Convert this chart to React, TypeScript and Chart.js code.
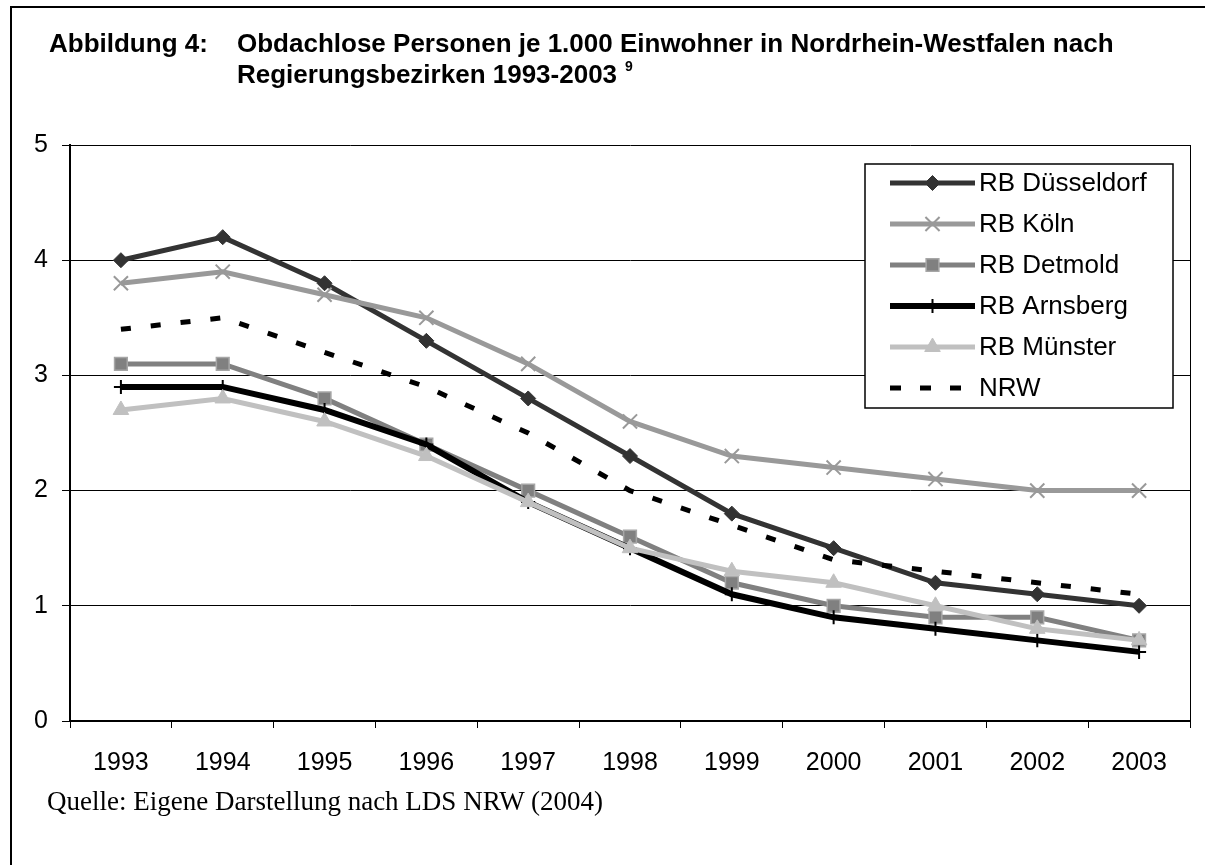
import React, { useEffect, useRef } from "react";
import { Chart, registerables } from "chart.js";
import { drawPoint } from "chart.js/helpers";

Chart.register(...registerables);

const years = ["1993", "1994", "1995", "1996", "1997", "1998", "1999", "2000", "2001", "2002", "2003"];
const duesseldorf = [4.0, 4.2, 3.8, 3.3, 2.8, 2.3, 1.8, 1.5, 1.2, 1.1, 1.0];
const koeln = [3.8, 3.9, 3.7, 3.5, 3.1, 2.6, 2.3, 2.2, 2.1, 2.0, 2.0];
const detmold = [3.1, 3.1, 2.8, 2.4, 2.0, 1.6, 1.2, 1.0, 0.9, 0.9, 0.7];
const arnsberg = [2.9, 2.9, 2.7, 2.4, 1.9, 1.5, 1.1, 0.9, 0.8, 0.7, 0.6];
const muenster = [2.7, 2.8, 2.6, 2.3, 1.9, 1.5, 1.3, 1.2, 1.0, 0.8, 0.7];
const nrw = [3.4, 3.5, 3.2, 2.9, 2.5, 2.0, 1.7, 1.4, 1.3, 1.2, 1.1];
const yTicks = [0, 1, 2, 3, 4, 5];

const FONT = '"Liberation Sans", Arial, sans-serif';

const legendPlugin = {
  id: "boxLegend",
  afterDraw(chart: any) {
    const ctx = chart.ctx;
    const area = chart.chartArea;
    const boxW = 308;
    const boxH = 244;
    const bx = area.right - 17 - boxW;
    const by = area.top + 19;
    ctx.save();
    ctx.fillStyle = "#ffffff";
    ctx.fillRect(bx, by, boxW, boxH);
    ctx.strokeStyle = "#000000";
    ctx.lineWidth = 1.5;
    ctx.strokeRect(bx, by, boxW, boxH);
    chart.data.datasets.forEach((ds: any, i: number) => {
      const cy = by + 19 + i * 41;
      const x0 = bx + 25;
      const x1 = bx + 110;
      ctx.save();
      ctx.strokeStyle = ds.borderColor;
      ctx.lineWidth = ds.borderWidth;
      ctx.lineCap = "butt";
      ctx.setLineDash(ds.borderDash ? [11, 19] : []);
      ctx.beginPath();
      ctx.moveTo(x0, cy);
      ctx.lineTo(ds.borderDash ? x1 - 12 : x1, cy);
      ctx.stroke();
      ctx.restore();
      if (ds.pointRadius > 0) {
        ctx.save();
        ctx.fillStyle = ds.pointBackgroundColor;
        ctx.strokeStyle = ds.pointBorderColor;
        ctx.lineWidth = ds.pointBorderWidth;
        drawPoint(ctx, { pointStyle: ds.pointStyle, radius: ds.pointRadius, rotation: 0, borderWidth: ds.pointBorderWidth }, (x0 + x1) / 2, cy);
        ctx.restore();
      }
      ctx.fillStyle = "#000000";
      ctx.font = `26px ${FONT}`;
      ctx.textBaseline = "middle";
      ctx.textAlign = "left";
      ctx.fillText(ds.label, x1 + 4, cy + 1);
    });
    // right border of plot area
    ctx.strokeStyle = "#000000";
    ctx.lineWidth = 1;
    ctx.beginPath();
    ctx.moveTo(area.right + 0.5, area.top);
    ctx.lineTo(area.right + 0.5, area.bottom);
    ctx.stroke();
    ctx.restore();
  },
};

function ChartCanvas() {
  const ref = useRef<HTMLCanvasElement | null>(null);
  useEffect(() => {
    if (!ref.current) return;
    const mk = (label: string, data: number[], color: string, width: number, style: any, radius: number, fill: string, border: string, bw: number, order: number, dash?: number[]) => ({
      label,
      data,
      borderColor: color,
      backgroundColor: color,
      borderWidth: width,
      borderDash: dash,
      borderCapStyle: "butt",
      pointStyle: style,
      pointRadius: radius,
      pointHoverRadius: radius,
      pointBackgroundColor: fill,
      pointBorderColor: border,
      pointBorderWidth: bw,
      tension: 0,
      fill: false,
      order,
    });
    const chart = new Chart(ref.current, {
      type: "line",
      data: {
        labels: years,
        datasets: [
          mk("RB Düsseldorf", duesseldorf, "#333333", 5, "rectRot", 7.5, "#333333", "#333333", 1, 5),
          mk("RB Köln", koeln, "#999999", 5, "crossRot", 10, "#999999", "#999999", 2, 4),
          mk("RB Detmold", detmold, "#808080", 5, "rect", 9, "#808080", "#a6a6a6", 1.5, 3),
          mk("RB Arnsberg", arnsberg, "#000000", 6, "cross", 7, "#000000", "#000000", 2, 2),
          mk("RB Münster", muenster, "#c0c0c0", 5, "triangle", 9, "#c0c0c0", "#c0c0c0", 1, 1),
          mk("NRW", nrw, "#000000", 5, "circle", 0, "#000000", "#000000", 0, 0, [10, 20]),
        ],
      },
      options: {
        animation: false,
        responsive: false,
        events: [],
        layout: { padding: { left: 10, right: 15, top: 145, bottom: 84 } },
        plugins: { legend: { display: false }, tooltip: { enabled: false }, title: { display: false } },
        scales: {
          x: {
            type: "category",
            offset: true,
            grid: { display: true, drawOnChartArea: false, drawTicks: true, tickLength: 7, color: "#000000", lineWidth: 1, offset: true },
            border: { display: true, color: "#000000", width: 2 },
            ticks: { color: "#000000", font: { family: FONT, size: 25 }, padding: 20, maxRotation: 0, autoSkip: false },
            afterFit: (s: any) => { s.height = 60; },
          },
          y: {
            min: yTicks[0],
            max: yTicks[yTicks.length - 1],
            afterBuildTicks: (s: any) => { s.ticks = yTicks.map((v) => ({ value: v })); },
            grid: { color: "#000000", lineWidth: 1, tickLength: 8, drawTicks: true },
            border: { display: true, color: "#000000", width: 2 },
            ticks: { color: "#000000", font: { family: FONT, size: 25 }, padding: 14 },
            afterFit: (s: any) => { s.width = 60; },
          },
        },
      },
      plugins: [legendPlugin],
    } as any);
    return () => chart.destroy();
  }, []);
  return <canvas ref={ref} width={1205} height={865} style={{ position: "absolute", left: 0, top: 0, width: 1205, height: 865 }} />;
}

export default function App() {
  const titleStyle: React.CSSProperties = {
    position: "absolute",
    fontFamily: FONT,
    fontWeight: "bold",
    fontSize: 26,
    lineHeight: "26px",
    whiteSpace: "nowrap",
    color: "#000",
  };
  return (
    <div style={{ position: "absolute", left: 0, top: 0, width: 1205, height: 865, background: "#fff", overflow: "hidden" }}>
      <div style={{ position: "absolute", left: 10, top: 6, width: 1195, height: 859, borderLeft: "2px solid #000", borderTop: "2px solid #000", boxSizing: "border-box" }} />
      <ChartCanvas />
      <div style={{ ...titleStyle, left: 49, top: 30 }}>Abbildung 4:</div>
      <div style={{ ...titleStyle, left: 237, top: 30 }}>Obdachlose Personen je 1.000 Einwohner in Nordrhein-Westfalen nach</div>
      <div style={{ ...titleStyle, left: 237, top: 61 }}>
        Regierungsbezirken 1993-2003
        <span style={{ position: "relative", top: -12, fontSize: 14, marginLeft: 8 }}>9</span>
      </div>
      <div style={{ position: "absolute", left: 47, top: 788, fontFamily: '"Liberation Serif", "Times New Roman", serif', fontSize: 27, lineHeight: "27px", whiteSpace: "nowrap", color: "#000" }}>
        Quelle: Eigene Darstellung nach LDS NRW (2004)
      </div>
    </div>
  );
}
